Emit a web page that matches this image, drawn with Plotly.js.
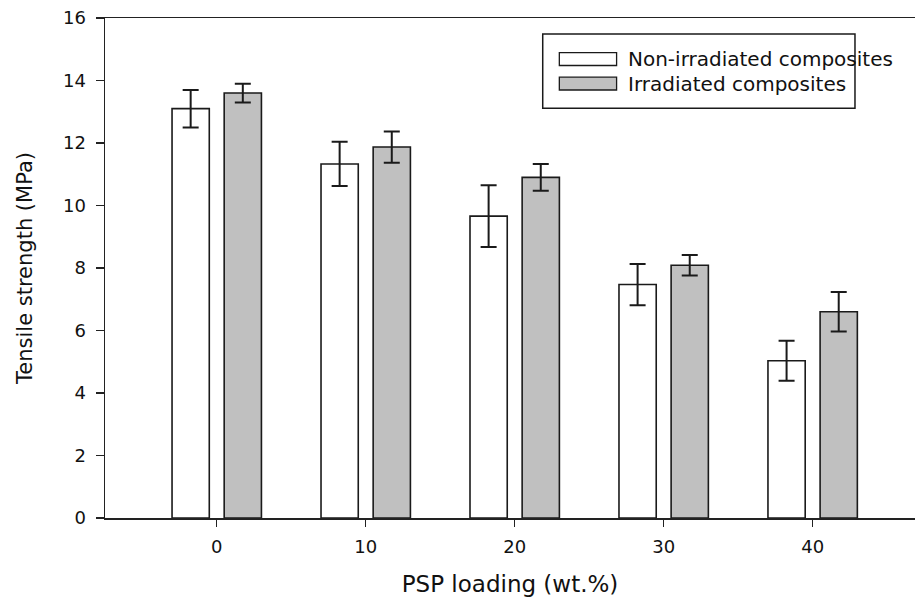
<!DOCTYPE html>
<html>
<head>
<meta charset="utf-8">
<script src="https://cdn.plot.ly/plotly-3.0.1.min.js"></script>
<style>html,body{margin:0;padding:0;background:#fff;}#chart{width:915px;height:601px;}</style>
</head>
<body>
<div id="chart"></div>
<script>
// Data
const loading = [0, 10, 20, 30, 40];
const tickLabels = ["0", "10", "20", "30", "40"];
const nonIrradiated = [13.1, 11.33, 9.66, 7.47, 5.03];
const nonIrradiatedErr = [0.6, 0.71, 0.99, 0.66, 0.64];
const irradiated = [13.6, 11.87, 10.9, 8.09, 6.6];
const irradiatedErr = [0.3, 0.5, 0.43, 0.33, 0.63];
const seriesNames = ["Non-irradiated composites", "Irradiated composites"];

const FONT = "DejaVu Sans, Arial, sans-serif";
const ink = "#1a1a1a";

const traces = [
  {
    type: "bar", name: seriesNames[0], x: loading, y: nonIrradiated,
    offset: -3, width: 2.5,
    marker: {color: "#ffffff", line: {color: ink, width: 1.6}},
    error_y: {type: "data", array: nonIrradiatedErr, visible: true, color: ink, thickness: 2, width: 8},
    showlegend: false, hoverinfo: "x+y"
  },
  {
    type: "bar", name: seriesNames[1], x: loading, y: irradiated,
    offset: 0.5, width: 2.5,
    marker: {color: "#c0c0c0", line: {color: ink, width: 1.6}},
    error_y: {type: "data", array: irradiatedErr, visible: true, color: ink, thickness: 2, width: 8},
    showlegend: false, hoverinfo: "x+y"
  }
];

// custom legend (paper coordinates)
const lx0 = 0.5404, lx1 = 0.9259, ly0 = 0.8194, ly1 = 0.968;
const shapes = [
  {type: "rect", xref: "paper", yref: "paper", x0: lx0, x1: lx1, y0: ly0, y1: ly1,
   line: {color: ink, width: 1.5}, fillcolor: "#ffffff", layer: "above"},
  {type: "rect", xref: "paper", yref: "paper", x0: 0.5609, x1: 0.6316, y0: 0.905, y1: 0.9306,
   line: {color: ink, width: 1.3}, fillcolor: "#ffffff", layer: "above"},
  {type: "rect", xref: "paper", yref: "paper", x0: 0.5609, x1: 0.6316, y0: 0.856, y1: 0.8816,
   line: {color: ink, width: 1.3}, fillcolor: "#c0c0c0", layer: "above"}
];
const annotations = [
  {xref: "paper", yref: "paper", x: 0.6432, y: 0.918, xanchor: "left", yanchor: "middle",
   text: seriesNames[0], showarrow: false, font: {family: FONT, size: 20, color: "#111"}},
  {xref: "paper", yref: "paper", x: 0.6432, y: 0.868, xanchor: "left", yanchor: "middle",
   text: seriesNames[1], showarrow: false, font: {family: FONT, size: 20, color: "#111"}}
];

const layout = {
  width: 915, height: 601,
  margin: {l: 105, r: 0, t: 18, b: 83, pad: 0},
  paper_bgcolor: "#ffffff", plot_bgcolor: "#ffffff",
  font: {family: FONT, color: "#111"},
  barmode: "overlay",
  showlegend: false,
  xaxis: {
    range: [-7.5, 46.87], tickmode: "array", tickvals: loading, ticktext: tickLabels,
    showgrid: false, zeroline: false, showline: true, mirror: true,
    linecolor: "#222", linewidth: 1.5,
    ticks: "outside", ticklen: 7, tickwidth: 1.5, tickcolor: "#222",
    ticklabelstandoff: 5,
    tickfont: {family: FONT, size: 18, color: "#111"},
    title: {text: "PSP loading (wt.%)", font: {family: FONT, size: 23, color: "#111"}, standoff: 20},
    automargin: false, fixedrange: true
  },
  yaxis: {
    range: [0, 16], dtick: 2, tick0: 0,
    showgrid: false, zeroline: false, showline: true, mirror: false,
    linecolor: "#222", linewidth: 1.5,
    ticks: "outside", ticklen: 8, tickwidth: 1.5, tickcolor: "#222",
    ticklabelstandoff: 6,
    tickfont: {family: FONT, size: 18, color: "#111"},
    title: {text: "Tensile strength (MPa)", font: {family: FONT, size: 21, color: "#111"}, standoff: 24},
    automargin: false, fixedrange: true
  },
  shapes: shapes,
  annotations: annotations
};

Plotly.newPlot("chart", traces, layout, {displayModeBar: false, staticPlot: true});
</script>
</body>
</html>
